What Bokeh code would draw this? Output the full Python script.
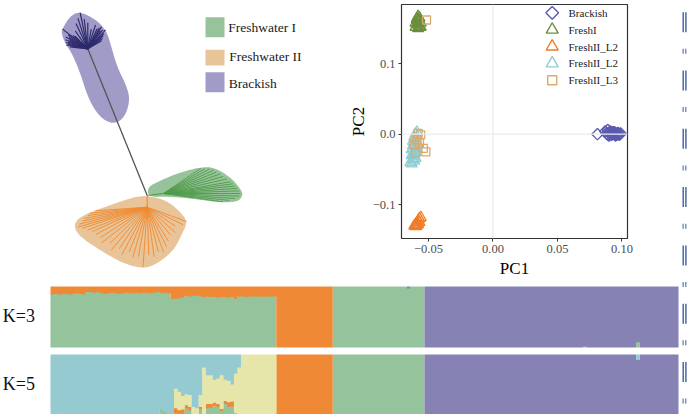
import numpy as np
from bokeh.plotting import figure
from bokeh.layouts import row, column
from bokeh.models import Range1d, Span, FixedTicker
from bokeh.core.properties import value
from bokeh.embed import file_html
from bokeh.resources import INLINE

SERIF = "Liberation Serif"

# ---------------- Tree panel (drawing coordinates) ----------------
clade_names = ["Freshwater I", "Freshwater II", "Brackish"]
clade_fill = ["#97C39B", "#E8C498", "#A19CC7"]
clade_line = ["#4F9A48", "#F08A30", "#2E2B6E"]

fw1_hull_x = [146.7, 160, 180, 200, 213.3, 230, 240, 242.7, 236.7, 216.7, 193.3, 166.7, 148.3]
fw1_hull_y = [186.7, 180, 171.7, 166.7, 166.7, 176.7, 188.3, 195, 201.7, 201.7, 198.3, 196, 196.7]
fw2_hull_x = [146.7, 166.7, 181.7, 186.7, 181.7, 173.3, 156.7, 143.3, 123.3, 100, 80, 73.3, 76.7, 90, 113.3, 133.3]
fw2_hull_y = [195, 200, 213.3, 221.7, 233.3, 250, 263.3, 268.3, 263.3, 250, 236.7, 226.7, 218.3, 211.7, 203.3, 196.7]
br_hull_x = [61.7, 70, 80, 96.7, 106, 110, 116.7, 126.7, 129.3, 125, 116.7, 106.7, 96.7, 87.3, 80, 71.7, 65, 61]
br_hull_y = [28.3, 15, 11, 20, 30.7, 43.3, 66.7, 86.7, 100, 115, 122.7, 121.7, 113.3, 96.7, 73.3, 53.3, 43.3, 33.3]

root_xy = (146.7, 195.0)
br_node_xy = (87.3, 48.3)
fw1_node_xy = (163.0, 193.0)
fw2_node_xy = (146.7, 206.7)

br_angles = [174, 170, 167, 164, 161, 158, 155, 152, 149, 145, 142, 138, 135, 125, 115, 108, 102, 97, 90,
             80, 72, 65, 61, 58, 55, 52, 47, 43, 40, 35, 30]
br_lengths = [18, 22, 20, 23, 21, 24, 20, 25, 22, 24, 32, 20, 18, 22, 28, 32, 37, 30, 26,
              20, 25, 22, 24, 26, 22, 24, 26, 22, 20, 18, 16]
fw1_angles = [34, 31, 28, 25, 22, 19, 16, 13, 10, 8, 6, 4, 2, 0, -2, -4, -6, -8]
fw1_lengths = [45, 48, 52, 55, 57, 60, 62, 65, 68, 70, 72, 74, 76, 77, 76, 72, 66, 60]
fw2_angles = [184, 186, 188, 190, 192, 194, 196, 198, 201, 204, 208, 213, 218, 224, 230, 236, 242, 248,
              254, 260, 266, 272, 278, 284, 290, 296, 302, 310, 318, 326, 334, 340]
fw2_lengths = [52, 58, 60, 64, 66, 70, 72, 68, 64, 60, 58, 56, 58, 52, 56, 50, 54, 48,
               52, 50, 60, 48, 50, 46, 48, 44, 40, 36, 38, 34, 40, 42]

legend_box_top = [16.7, 49.3, 71.7]
legend_box_bottom = [36.7, 65.0, 91.7]
legend_text_x = [227.7, 228.7, 228.3]
legend_text_y = [26.5, 56.0, 83.0]

# ---------------- PCA ----------------
pca_names = ["Brackish", "FreshI", "FreshII_L2", "FreshII_L2", "FreshII_L3"]
pca_colors = ["#5B59B0", "#6B8E3A", "#F07B27", "#8DCDD4", "#D9A96E"]
pca_markers = ["square", "triangle", "triangle", "triangle", "square"]
pca_marker_angle = [45, 0, 0, 0, 0]
pca_marker_size = [8, 11, 11, 11, 8]

br_pc1 = [0.081, 0.087, 0.088, 0.089, 0.090, 0.091, 0.092, 0.093, 0.094, 0.095, 0.096, 0.097,
          0.098, 0.099, 0.090, 0.092, 0.094, 0.096, 0.098, 0.093, 0.095, 0.097, 0.091, 0.089]
br_pc2 = [0.000, 0.004, 0.001, 0.006, 0.002, 0.004, -0.001, 0.003, 0.000, 0.002, -0.001, 0.001,
          0.000, 0.001, -0.002, 0.002, 0.003, 0.000, -0.001, 0.001, -0.002, 0.002, 0.000, -0.001]
f1_pc1 = [-0.060, -0.059, -0.058, -0.057, -0.056, -0.059, -0.058, -0.057, -0.060, -0.058, -0.056, -0.057, -0.059, -0.058]
f1_pc2 = [0.152, 0.156, 0.160, 0.165, 0.158, 0.162, 0.167, 0.153, 0.158, 0.150, 0.152, 0.161, 0.164, 0.155]
f2o_pc1 = [-0.057, -0.058, -0.059, -0.060, -0.061, -0.058, -0.059, -0.057, -0.060, -0.056]
f2o_pc2 = [-0.120, -0.123, -0.126, -0.128, -0.130, -0.128, -0.130, -0.125, -0.131, -0.118]
f2b_pc1 = [-0.059, -0.060, -0.061, -0.060, -0.062, -0.059, -0.061, -0.060, -0.062, -0.063, -0.061, -0.060, -0.062,
           -0.063, -0.061, -0.059, -0.060, -0.062, -0.064, -0.063, -0.061, -0.062, -0.060, -0.058, -0.061]
f2b_pc2 = [0.003, 0.000, -0.004, -0.008, -0.010, -0.012, -0.015, -0.018, -0.020, -0.022, -0.024, -0.026, -0.028,
           -0.030, -0.032, -0.020, -0.034, -0.036, -0.040, -0.042, -0.038, -0.016, -0.006, -0.014, -0.028]
f3_pc1 = [-0.058, -0.056, -0.054, -0.052, -0.061, -0.060, -0.059, -0.057, -0.0515]
f3_pc2 = [0.001, -0.001, -0.020, -0.025, -0.015, -0.027, -0.008, -0.012, 0.162]
pca_x = [br_pc1, f1_pc1, f2o_pc1, f2b_pc1, f3_pc1]
pca_y = [br_pc2, f1_pc2, f2o_pc2, f2b_pc2, f3_pc2]

pc1_ticks = [-0.05, 0.0, 0.05, 0.10]
pc1_tick_labels = ["\u22120.05", "0.00", "0.05", "0.10"]
pc2_ticks = [-0.1, 0.0, 0.1]
pc2_tick_labels = ["\u22120.1", "0.0", "0.1"]

# ---------------- Structure (admixture proportions) ----------------
GREEN, ORANGE, PURPLE, BLUE, YELLOW = "#95C39B", "#F08936", "#8682B4", "#94CAD0", "#E6E6AA"
n_mix, n_l2, n_fw1, n_br = 64, 16, 26, 72

mix_k3_orange = [0.12, 0.11, 0.12, 0.11, 0.11, 0.12, 0.11, 0.10, 0.11, 0.12,
                 0.08, 0.08, 0.09, 0.08, 0.10, 0.11, 0.10, 0.09, 0.10, 0.11,
                 0.10, 0.09, 0.10, 0.10, 0.09, 0.10, 0.09, 0.09, 0.10, 0.09,
                 0.08, 0.09, 0.09, 0.10, 0.19, 0.19, 0.18, 0.17, 0.14, 0.15,
                 0.14, 0.14, 0.15, 0.16, 0.15, 0.16, 0.16, 0.17, 0.16, 0.16,
                 0.17, 0.16, 0.19, 0.15, 0.15, 0.16, 0.15, 0.15, 0.15, 0.15,
                 0.16, 0.15, 0.15, 0.15]
mix_k5_green = [0, 0, 0, 0, 0, 0, 0, 0, 0, 0,
                0, 0, 0, 0, 0, 0, 0, 0, 0, 0,
                0, 0, 0, 0, 0, 0, 0, 0, 0, 0,
                0, 0.12, 0.08, 0.04, 0.03, 0.05, 0.04, 0.04, 0.13, 0.10,
                0.01, 0.01, 0.12, 0, 0.13, 0.14, 0.17, 0.15, 0.09, 0.20,
                0.15, 0.16, 0.05, 0, 0, 0, 0, 0, 0, 0,
                0, 0, 0, 0]
mix_k5_orange = [0, 0, 0, 0, 0, 0, 0, 0, 0, 0,
                 0, 0, 0, 0, 0, 0, 0, 0, 0, 0,
                 0, 0, 0, 0, 0, 0, 0, 0, 0, 0,
                 0, 0, 0, 0, 0, 0.08, 0.06, 0.07, 0.05, 0.05,
                 0.02, 0, 0.03, 0, 0.07, 0.06, 0.05, 0.05, 0.03, 0.05,
                 0.08, 0.08, 0, 0, 0, 0, 0, 0, 0, 0,
                 0, 0, 0, 0]
mix_k5_yellow = [0, 0, 0.04, 0, 0, 0, 0, 0, 0, 0,
                 0, 0, 0, 0, 0, 0, 0, 0, 0, 0,
                 0, 0, 0, 0, 0, 0, 0, 0, 0, 0,
                 0, 0, 0, 0, 0, 0.32, 0.30, 0.22, 0.18, 0.20,
                 0.12, 0.12, 0.20, 0.80, 0.47, 0.47, 0.38, 0.42, 0.55, 0.35,
                 0.35, 0.28, 0.65, 0.80, 1, 1, 1, 1, 1, 1,
                 1, 1, 1, 1]
fw1_k3_purple = [0] * 21 + [0.02] + [0] * 4
br_k3_green = [0] * 45 + [0.03] + [0] * 14 + [0.10] + [0] * 11
br_k5_green = [0] * 45 + [0.02] + [0] * 26
br_k5_blue = [0] * 60 + [0.08] + [0] * 11
k_labels = ["K=3", "K=5"]

# ---------------- helpers ----------------
def chaikin(x, y, n=3):
    pts = np.column_stack([x, y]).astype(float)
    for _ in range(n):
        nxt = np.roll(pts, -1, axis=0)
        q = 0.75 * pts + 0.25 * nxt
        r = 0.25 * pts + 0.75 * nxt
        new = np.empty((2 * len(pts), 2))
        new[0::2] = q
        new[1::2] = r
        pts = new
    return list(pts[:, 0]), list(pts[:, 1])


def fan(node, angles, lengths):
    a = np.radians(angles)
    L = np.array(lengths, dtype=float)
    x1 = node[0] + L * np.cos(a)
    y1 = node[1] - L * np.sin(a)
    return [node[0]] * len(a), [node[1]] * len(a), list(x1), list(y1)


# ---------------- Tree figure ----------------
tree = figure(width=340, height=280, x_range=Range1d(0, 340), y_range=Range1d(280, 0),
              output_backend="svg", toolbar_location=None, x_axis_type=None, y_axis_type=None,
              min_border=0, outline_line_color=None)
tree.grid.visible = False
for hx, hy, col in [(fw2_hull_x, fw2_hull_y, clade_fill[1]), (fw1_hull_x, fw1_hull_y, clade_fill[0]),
                    (br_hull_x, br_hull_y, clade_fill[2])]:
    sx, sy = chaikin(hx, hy)
    tree.patch(sx, sy, fill_color=col, line_color=None)

tree.segment(x0=[br_node_xy[0]], y0=[br_node_xy[1]], x1=[root_xy[0]], y1=[root_xy[1]],
             line_color="#555555", line_width=1.3)
x0, y0, x1, y1 = fan(br_node_xy, br_angles, br_lengths)
tree.segment(x0=x0, y0=y0, x1=x1, y1=y1, line_color=clade_line[2], line_width=1.2)
tree.segment(x0=[root_xy[0]], y0=[root_xy[1]], x1=[fw1_node_xy[0]], y1=[fw1_node_xy[1]],
             line_color=clade_line[0], line_width=1.1)
x0, y0, x1, y1 = fan(fw1_node_xy, fw1_angles, fw1_lengths)
tree.segment(x0=x0, y0=y0, x1=x1, y1=y1, line_color=clade_line[0], line_width=0.9)
tree.segment(x0=[root_xy[0]], y0=[root_xy[1]], x1=[fw2_node_xy[0]], y1=[fw2_node_xy[1]],
             line_color=clade_line[1], line_width=1.1)
x0, y0, x1, y1 = fan(fw2_node_xy, fw2_angles, fw2_lengths)
tree.segment(x0=x0, y0=y0, x1=x1, y1=y1, line_color=clade_line[1], line_width=0.9)

tree.quad(left=[205] * 3, right=[224] * 3, top=legend_box_top, bottom=legend_box_bottom,
          fill_color=clade_fill, line_color=None)
tree.text(x=legend_text_x, y=legend_text_y, text=clade_names, text_font=value(SERIF),
          text_font_size="13.5px", text_baseline="middle", text_color="#1a1a1a")

# ---------------- PCA figure ----------------
pca = figure(width=339, height=280, x_range=Range1d(-0.0709, 0.1043), y_range=Range1d(-0.148, 0.184),
             output_backend="svg", toolbar_location=None, min_border_left=61, min_border_right=52,
             min_border_top=4, min_border_bottom=36, outline_line_color="#333333", outline_line_width=1.2)
pca.grid.visible = False
pca.add_layout(Span(location=0, dimension="height", line_color="#EBEBEB", line_width=1.3))
pca.add_layout(Span(location=0, dimension="width", line_color="#EBEBEB", line_width=1.3))
for xs, ys, col, mk, ang, sz in zip(pca_x, pca_y, pca_colors, pca_markers, pca_marker_angle, pca_marker_size):
    pca.scatter(xs, ys, marker=mk, size=sz, angle=np.radians(ang), fill_color=None,
                line_color=col, line_width=1.3)

pca.xaxis.ticker = FixedTicker(ticks=pc1_ticks)
pca.xaxis.major_label_overrides = dict(zip(pc1_ticks, pc1_tick_labels))
pca.yaxis.ticker = FixedTicker(ticks=pc2_ticks)
pca.yaxis.major_label_overrides = dict(zip(pc2_ticks, pc2_tick_labels))
pca.xaxis.axis_label = "PC1"
pca.yaxis.axis_label = "PC2"
for ax in (pca.xaxis[0], pca.yaxis[0]):
    ax.axis_line_color = None
    ax.major_tick_line_color = "#333333"
    ax.major_tick_out = 3
    ax.major_tick_in = 0
    ax.minor_tick_line_color = None
    ax.major_label_text_font = SERIF
    ax.major_label_text_font_size = "12.5px"
    ax.major_label_text_color = "#4D4D4D"
    ax.major_label_standoff = 3
    ax.axis_label_text_font = SERIF
    ax.axis_label_text_font_size = "17px"
    ax.axis_label_text_font_style = "normal"
    ax.axis_label_text_color = "#000000"
pca.xaxis.axis_label_standoff = 3
pca.yaxis.axis_label_standoff = 2

# legend drawn in frame-pixel ranges
pca.extra_x_ranges = {"lx": Range1d(0, 226)}
pca.extra_y_ranges = {"ly": Range1d(240, 0)}
for i, (name, col, mk, ang, sz) in enumerate(zip(pca_names, pca_colors, pca_markers, pca_marker_angle, pca_marker_size)):
    yy = 8.5 + 17.3 * i
    pca.scatter([150.7], [yy], marker=mk, size=sz + 1, angle=np.radians(ang), fill_color=None,
                line_color=col, line_width=1.4, x_range_name="lx", y_range_name="ly")
    pca.text([167], [yy], text=[name], text_font=value(SERIF), text_font_size="11px",
             text_baseline="middle", text_color="#222222", x_range_name="lx", y_range_name="ly")

# ---------------- Structure figure ----------------
n_total = n_mix + n_l2 + n_fw1 + n_br
struct = figure(width=679, height=134, x_range=Range1d(-14.17, n_total + 0.28), y_range=Range1d(0.0164, 2.2131),
                output_backend="svg", toolbar_location=None, x_axis_type=None, y_axis_type=None,
                min_border=0, outline_line_color=None)
struct.grid.visible = False

mo = np.array(mix_k3_orange)
fp = np.array(fw1_k3_purple)
bg = np.array(br_k3_green)
k3_green = np.concatenate([1 - mo, np.zeros(n_l2), 1 - fp, bg])
k3_purple = np.concatenate([np.zeros(n_mix), np.zeros(n_l2), fp, 1 - bg])
k3_orange = np.concatenate([mo, np.ones(n_l2), np.zeros(n_fw1), np.zeros(n_br)])

g5 = np.array(mix_k5_green, float)
o5 = np.array(mix_k5_orange, float)
y5 = np.array(mix_k5_yellow, float)
bg5 = np.array(br_k5_green, float)
bb5 = np.array(br_k5_blue, float)
k5_green = np.concatenate([g5, np.zeros(n_l2), np.ones(n_fw1), bg5])
k5_orange = np.concatenate([o5, np.ones(n_l2), np.zeros(n_fw1), np.zeros(n_br)])
k5_yellow = np.concatenate([y5, np.zeros(n_l2), np.zeros(n_fw1), np.zeros(n_br)])
k5_purple = np.concatenate([np.zeros(n_mix), np.zeros(n_l2), np.zeros(n_fw1), 1 - bg5 - bb5])
k5_blue = np.concatenate([1 - g5 - o5 - y5, np.zeros(n_l2), np.zeros(n_fw1), bb5])

# step outline of the individuals: each individual occupies [i, i+1]
x_step = np.repeat(np.arange(n_total + 1, dtype=float), 2)[1:-1]
row_gap = 7 / 61.0
eps = 0.012
for base, comps, cols in [(1 + row_gap, [k3_green, k3_purple, k3_orange], [GREEN, PURPLE, ORANGE]),
                          (0.0, [k5_green, k5_orange, k5_yellow, k5_purple, k5_blue],
                           [GREEN, ORANGE, YELLOW, PURPLE, BLUE])]:
    stack = np.vstack(comps)
    cum = np.cumsum(stack, axis=0)
    for j in range(len(comps)):
        lower = cum[j] - stack[j]
        # tiny overlap with the component below (only where this one exists) hides seams
        lower = np.where((stack[j] > 1e-9) & (lower > 1e-9), lower - eps, lower)
        struct.varea(x=x_step, y1=base + np.repeat(lower, 2), y2=base + np.repeat(cum[j], 2),
                     fill_color=cols[j])

struct.text(x=[-13.5, -13.5], y=[1 + row_gap + 0.52, 0.51], text=k_labels, text_font=value(SERIF),
            text_font_size="18px", text_baseline="middle", text_color="#111111")

# ---------------- right edge marks ----------------
mark_rows = [0, 1, 2, 3, 4, 5, 6]
marks = figure(width=8, height=414, x_range=Range1d(679, 687), y_range=Range1d(414, 0),
               output_backend="svg", toolbar_location=None, x_axis_type=None, y_axis_type=None,
               min_border=0, outline_line_color=None)
marks.grid.visible = False
period = 58.3
long_top = [11.7 + period * k for k in mark_rows]
short_top = [48.3 + period * k for k in mark_rows]
for left in (682.0, 684.7):
    marks.quad(left=[left] * len(mark_rows), right=[left + 1.4] * len(mark_rows), top=long_top,
               bottom=[t + 20 for t in long_top], fill_color="#3F5F9F", line_color=None)
    marks.quad(left=[left] * len(mark_rows), right=[left + 1.2] * len(mark_rows), top=short_top,
               bottom=[t + 5 for t in short_top], fill_color="#5A76AE", line_color=None)

top_row = row(column(tree), column(pca))
layout = row(column(top_row, struct), marks)
open("out.html", "w").write(file_html(layout, INLINE))
